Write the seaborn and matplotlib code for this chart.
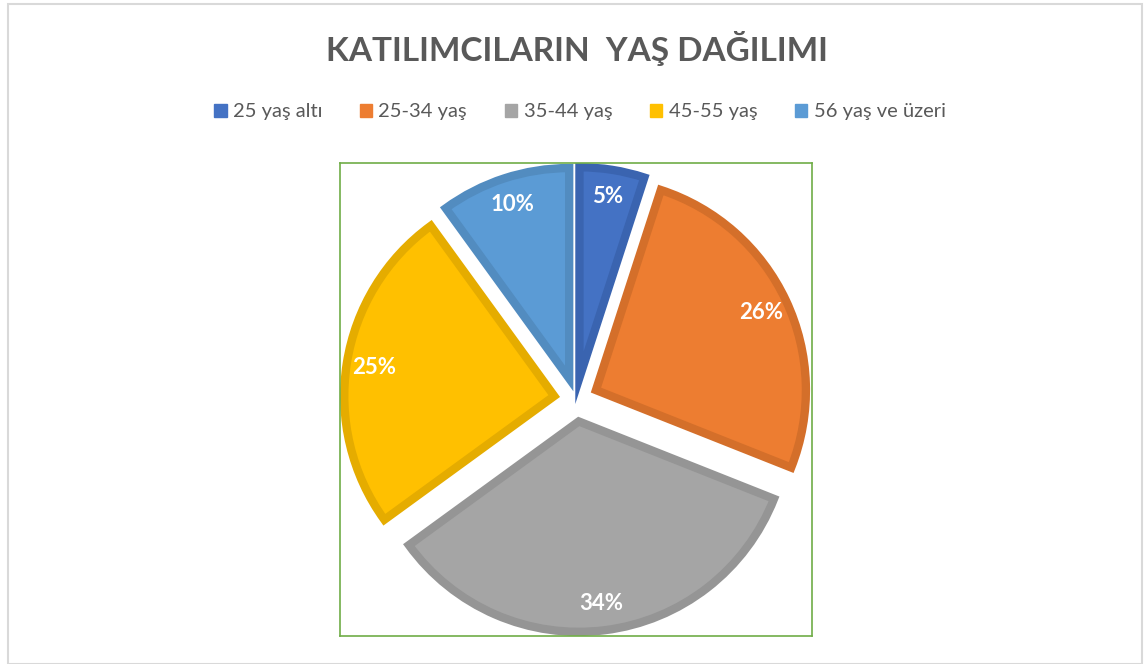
import matplotlib
matplotlib.use("Agg")
import matplotlib.pyplot as plt
import seaborn as sns
from matplotlib.patches import Patch, Rectangle

# Data
categories = ["25 yaş altı", "25-34 yaş", "35-44 yaş", "45-55 yaş", "56 yaş ve üzeri"]
shares = [5, 26, 34, 25, 10]
fill_colors = ["#4472C4", "#ED7D31", "#A5A5A5", "#FFC000", "#5B9BD5"]
edge_colors = ["#3A64B0", "#D46F2A", "#959595", "#E5AC00", "#528CC0"]
title = "KATILIMCILARIN  YAŞ DAĞILIMI"

sns.set_theme(style="white")
plt.rcParams['font.family'] = ['Lato', 'DejaVu Sans']

fig = plt.figure(figsize=(11.44, 6.64), dpi=100)

# outer chart border
fig.patches.append(Rectangle((8 / 1144, 0.0), 1134 / 1144, 660 / 664,
                             transform=fig.transFigure, fill=False,
                             edgecolor="#D9D9D9", linewidth=1.5))

ax = fig.add_axes([340 / 1144, 28 / 664, 472 / 1144, 473 / 664])
wedges, texts, autotexts = ax.pie(
    shares, colors=fill_colors, startangle=90, counterclock=False,
    explode=[0.105] * len(shares), autopct="%1.0f%%", pctdistance=0.87,
    wedgeprops=dict(linewidth=6, joinstyle="miter"),
    textprops=dict(color="white", fontsize=16, fontweight="bold"))
for w, ec in zip(wedges, edge_colors):
    w.set_edgecolor(ec)

lim = 1.124
ax.set_xlim(-lim, lim)
ax.set_ylim(-lim, lim)
ax.set_aspect("auto")
ax.set_frame_on(True)
for s in ax.spines.values():
    s.set_visible(True)
    s.set_color("#70AD47")
    s.set_linewidth(1.2)

fig.text(577 / 1144, 1 - 48 / 664, title, ha="center", va="center",
         fontsize=24, fontweight="bold", color="#595959")

handles = [Patch(facecolor=c, edgecolor=c) for c in fill_colors]
fig.legend(handles, categories, loc="center", bbox_to_anchor=(580 / 1144, 1 - 112 / 664),
           ncol=5, frameon=False, fontsize=14.5, labelcolor="#595959",
           handlelength=0.6, handleheight=0.6, handletextpad=0.3, columnspacing=1.9)

fig.savefig("out.png", dpi=100)
